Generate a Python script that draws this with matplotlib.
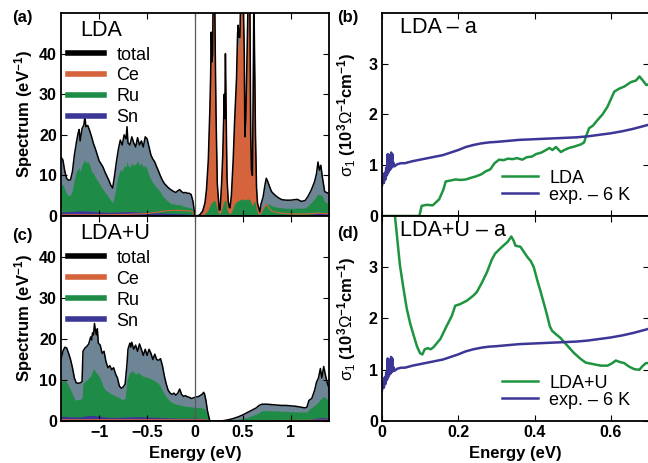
import matplotlib
matplotlib.use('Agg')
import matplotlib.pyplot as plt
from matplotlib.lines import Line2D
import numpy as np

plt.rcParams['font.family'] = ['Liberation Sans', 'DejaVu Sans']
plt.rcParams['mathtext.fontset'] = 'custom'
plt.rcParams['mathtext.rm'] = 'Liberation Sans'
plt.rcParams['mathtext.bf'] = 'Liberation Sans:bold'
plt.rcParams['mathtext.it'] = 'Liberation Sans:italic'

# ---------------- LDA spectrum (panel a) ----------------
# occupied side, total and Ru
e_a_occ = [-1.40, -1.38, -1.36, -1.34, -1.32, -1.30, -1.28, -1.26, -1.24, -1.22,
           -1.21, -1.20, -1.18, -1.16, -1.15, -1.14, -1.12, -1.10, -1.08, -1.06,
           -1.04, -1.02, -1.00, -0.98, -0.96, -0.94, -0.92, -0.90, -0.88, -0.86,
           -0.84, -0.82, -0.80, -0.78, -0.76, -0.74, -0.72, -0.71, -0.70, -0.68,
           -0.66, -0.64, -0.62, -0.60, -0.58, -0.56, -0.54, -0.52, -0.50, -0.48,
           -0.46, -0.44, -0.42, -0.40, -0.38, -0.36, -0.34, -0.32, -0.30, -0.28,
           -0.26, -0.24, -0.22, -0.20, -0.18, -0.16, -0.14, -0.12, -0.10, -0.08,
           -0.06, -0.04, -0.02]
tot_a_occ = [14.5, 13.8, 11.0, 9.2, 8.8, 8.9, 11.0, 15.0, 18.0, 20.5,
             21.3, 18.5, 21.5, 22.5, 24.6, 22.0, 22.3, 21.0, 19.5, 17.8,
             16.5, 15.0, 13.5, 12.8, 12.0, 10.8, 9.8, 8.8, 7.6, 6.9,
             10.0, 13.5, 16.5, 18.7, 17.5, 20.0, 19.0, 22.0, 18.0, 17.5,
             19.5, 18.0, 17.0, 19.3, 17.5, 18.5, 17.0, 19.5, 19.0, 17.0,
             15.0, 14.0, 13.3, 12.1, 11.0, 9.8, 8.8, 8.0, 7.5, 7.0,
             6.6, 6.3, 6.0, 5.8, 6.2, 6.5, 6.0, 5.7, 5.8, 5.6,
             5.6, 5.3, 3.5]
ru_a_occ = [7.5, 7.8, 6.5, 5.5, 5.0, 5.2, 6.5, 9.0, 11.0, 11.5,
            12.0, 10.8, 12.6, 13.5, 13.8, 13.0, 13.5, 12.5, 11.0, 10.5,
            9.5, 8.8, 8.0, 7.2, 6.5, 5.8, 5.2, 4.5, 3.8, 3.3,
            5.0, 8.0, 10.0, 11.5, 11.0, 12.5, 12.0, 13.5, 12.5, 12.0,
            13.0, 12.5, 12.8, 13.5, 12.5, 13.0, 12.0, 12.5, 11.5, 10.0,
            9.0, 8.2, 7.5, 7.0, 6.5, 5.8, 5.0, 4.5, 4.0, 3.6,
            3.2, 3.0, 3.0, 2.8, 2.8, 2.8, 2.6, 2.4, 2.3, 2.2,
            2.1, 2.0, 1.5]
e_a_ce_occ = [-1.40, -1.00, -0.70, -0.50, -0.40, -0.30, -0.20, -0.10, -0.03]
ce_a_occ = [0.3, 0.3, 0.4, 0.6, 0.9, 1.3, 1.4, 1.3, 1.2]

# unoccupied side, total / Ce / Ru on one grid
e_a_emp = [0.00, 0.03, 0.05, 0.08, 0.104, 0.12, 0.139, 0.155, 0.163, 0.17,
           0.177, 0.184, 0.19, 0.205, 0.212, 0.219, 0.233, 0.253, 0.262, 0.278,
           0.29, 0.298, 0.306, 0.312, 0.318, 0.326, 0.334, 0.348, 0.358, 0.365,
           0.38, 0.399, 0.415, 0.434, 0.445, 0.451, 0.46, 0.469, 0.478, 0.503,
           0.515, 0.521, 0.531, 0.54, 0.549, 0.556, 0.573, 0.582, 0.59, 0.60,
           0.608, 0.615, 0.622, 0.632, 0.643, 0.653, 0.677, 0.69, 0.712, 0.73,
           0.745, 0.76, 0.78, 0.80, 0.833, 0.87, 0.91, 0.955, 1.00, 1.04,
           1.07, 1.11, 1.15, 1.18, 1.215, 1.25, 1.27, 1.285, 1.30, 1.315,
           1.33, 1.355, 1.40]
tot_a_emp = [0.0, 0.1, 0.3, 1.2, 3.2, 6.5, 13.7, 26.0, 34.0, 45.3,
             38.0, 40.0, 55.0, 55.0, 40.0, 26.0, 8.0, 1.5, 1.5, 8.0,
             15.0, 22.0, 30.0, 24.0, 40.0, 25.0, 9.6, 3.5, 2.2, 2.0,
             5.0, 13.8, 24.0, 34.0, 45.0, 47.0, 44.0, 44.0, 55.0, 55.0,
             40.0, 19.5, 24.4, 35.0, 45.0, 55.0, 55.0, 20.0, 11.3, 10.0,
             30.0, 55.0, 40.0, 20.0, 7.0, 3.2, 1.0, 3.0, 4.7, 7.5,
             9.3, 8.5, 7.2, 6.0, 5.2, 4.5, 4.0, 3.9, 3.9, 4.0,
             4.1, 3.6, 3.8, 4.8, 6.4, 8.5, 10.5, 13.3, 11.3, 12.5,
             9.7, 6.0, 5.5]
ce_a_emp = [0.0, 0.05, 0.2, 0.8, 2.4, 5.3, 11.8, 23.0, 30.5, 41.5,
            34.5, 36.0, 50.5, 50.5, 36.0, 22.5, 6.0, 0.8, 0.8, 6.0,
            12.0, 18.5, 26.0, 20.0, 35.5, 21.5, 7.5, 2.3, 1.4, 1.2,
            3.8, 11.5, 20.5, 30.0, 40.5, 42.5, 39.5, 39.5, 50.5, 50.5,
            35.5, 15.0, 20.0, 30.5, 40.5, 50.5, 50.5, 16.0, 8.0, 7.0,
            26.0, 50.5, 36.0, 16.5, 5.0, 2.0, 0.5, 1.2, 2.0, 2.6,
            2.8, 2.5, 1.8, 1.3, 1.0, 0.8, 0.7, 0.6, 0.5, 0.5,
            0.5, 0.5, 0.5, 0.5, 0.6, 0.6, 0.7, 0.7, 0.7, 0.7,
            0.6, 0.6, 0.5]
ru_a_emp = [0.0, 0.05, 0.1, 0.3, 0.6, 1.0, 1.6, 2.5, 3.0, 3.3,
            3.3, 3.5, 3.8, 3.8, 3.5, 3.0, 1.5, 0.5, 0.5, 1.5,
            2.5, 3.2, 3.5, 3.7, 4.0, 3.5, 1.8, 0.8, 0.6, 0.6,
            1.0, 2.0, 3.0, 3.5, 3.8, 3.8, 3.8, 4.0, 4.0, 4.2,
            4.0, 4.0, 4.0, 4.2, 4.2, 4.2, 4.0, 3.5, 3.0, 2.5,
            3.0, 3.5, 3.5, 3.0, 1.5, 0.8, 0.4, 0.8, 1.8, 2.5,
            3.0, 3.0, 2.8, 2.5, 2.3, 2.1, 2.0, 1.9, 1.9, 1.9,
            2.0, 1.9, 2.0, 2.5, 3.3, 4.2, 5.0, 5.5, 5.0, 5.3,
            4.8, 3.5, 3.0]
e_a_sn = [-1.40, -1.30, -1.20, -1.10, -1.00, -0.90, -0.80, -0.70, -0.60, -0.50,
          -0.40, -0.30, -0.20, -0.10, -0.02, 0.00, 0.10, 0.20, 0.40, 0.60,
          0.70, 0.90, 1.10, 1.20, 1.30, 1.40]
sn_a = [1.0, 1.1, 1.3, 1.2, 1.0, 0.9, 1.0, 1.1, 1.0, 0.9,
        0.8, 0.7, 0.6, 0.5, 0.4, 0.0, 0.1, 0.2, 0.2, 0.2,
        0.2, 0.3, 0.3, 0.4, 0.7, 0.6]

# ---------------- LDA+U spectrum (panel c) ----------------
e_c = [-1.40, -1.38, -1.36, -1.34, -1.32, -1.30, -1.28, -1.26, -1.24, -1.22,
       -1.20, -1.18, -1.17, -1.15, -1.13, -1.11, -1.09, -1.08, -1.07, -1.06,
       -1.05, -1.04, -1.03, -1.02, -1.01, -0.99, -0.97, -0.95, -0.93, -0.91,
       -0.89, -0.87, -0.85, -0.83, -0.81, -0.79, -0.77, -0.75, -0.73, -0.71,
       -0.70, -0.68, -0.67, -0.66, -0.64, -0.62, -0.60, -0.58, -0.56, -0.54,
       -0.52, -0.50, -0.48, -0.46, -0.44, -0.42, -0.40, -0.38, -0.36, -0.34,
       -0.32, -0.30, -0.28, -0.26, -0.24, -0.22, -0.20, -0.18, -0.16, -0.14,
       -0.12, -0.10, -0.08, -0.06, -0.04, -0.02, 0.00, 0.02, 0.04, 0.06,
       0.08, 0.09, 0.10, 0.115, 0.13, 0.155, 0.26, 0.30, 0.35, 0.40,
       0.45, 0.50, 0.55, 0.60, 0.64, 0.67, 0.70, 0.75, 0.80, 0.85,
       0.90, 0.95, 1.00, 1.05, 1.10, 1.15, 1.17, 1.19, 1.22, 1.25,
       1.27, 1.29, 1.31, 1.325, 1.345, 1.36, 1.38, 1.40]
tot_c = [15.0, 17.0, 18.0, 17.8, 16.5, 15.0, 13.0, 10.5, 9.3, 9.2,
         9.3, 9.6, 17.0, 17.8, 18.2, 18.8, 20.5, 19.8, 21.5, 21.0,
         23.8, 22.0, 21.0, 22.5, 19.0, 18.5, 16.5, 17.0, 14.5, 13.0,
         13.5, 12.5, 13.0, 11.5, 10.5, 8.5, 8.0, 8.3, 9.0, 14.0,
         17.5, 19.0, 18.0, 19.2, 17.5, 18.5, 17.0, 18.8, 17.5, 16.0,
         17.5, 16.0, 17.5, 16.5, 15.0, 16.3, 15.0, 14.8, 15.2, 13.5,
         11.0, 9.0, 7.5, 6.8, 6.5, 6.8, 6.3, 6.8, 7.8, 6.5,
         6.0, 6.2, 5.9, 5.8, 5.5, 5.6, 5.8, 5.9, 6.0, 6.3,
         6.6, 7.0, 6.6, 5.0, 2.5, 0.0, 0.0, 0.1, 0.3, 0.6,
         1.0, 1.5, 2.1, 2.7, 3.2, 3.8, 4.1, 4.1, 4.0, 3.9,
         3.8, 3.8, 3.7, 3.6, 3.4, 3.2, 3.4, 5.0, 5.5, 7.5,
         9.5, 10.5, 12.8, 10.5, 13.3, 11.5, 9.5, 8.0]
e_c_ru = [-1.40, -1.36, -1.33, -1.30, -1.27, -1.25, -1.20, -1.18, -1.17, -1.13,
          -1.09, -1.06, -1.04, -1.02, -0.99, -0.96, -0.94, -0.90, -0.88, -0.84,
          -0.80, -0.76, -0.73, -0.71, -0.69, -0.66, -0.62, -0.59, -0.55, -0.52,
          -0.48, -0.44, -0.40, -0.37, -0.33, -0.30, -0.26, -0.22, -0.16, -0.10,
          -0.05, 0.00, 0.05, 0.10, 0.13, 0.155, 0.26, 0.35, 0.45, 0.55,
          0.65, 0.70, 0.80, 0.90, 1.00, 1.10, 1.17, 1.20, 1.26, 1.30,
          1.34, 1.40]
ru_c = [9.5, 10.0, 9.0, 7.6, 6.0, 5.1, 5.3, 5.5, 9.2, 10.0,
        11.0, 12.8, 12.0, 11.5, 10.4, 8.5, 7.6, 7.0, 6.7, 6.2,
        5.8, 5.2, 5.5, 10.0, 11.5, 12.3, 11.5, 11.8, 11.0, 10.8,
        10.5, 10.0, 9.5, 8.8, 7.0, 5.9, 4.8, 4.3, 3.9, 3.6,
        3.5, 3.3, 3.3, 3.0, 1.5, 0.0, 0.0, 0.1, 0.4, 0.9,
        1.8, 2.5, 2.5, 2.4, 2.3, 2.2, 2.2, 3.0, 4.0, 5.0,
        6.0, 5.0]
e_c_sn = [-1.40, -1.30, -1.20, -1.10, -1.00, -0.90, -0.80, -0.70, -0.60, -0.50,
          -0.40, -0.30, -0.20, -0.10, 0.00, 0.10, 0.155, 0.26, 0.50, 0.70,
          1.00, 1.17, 1.25, 1.32, 1.40]
sn_c = [1.2, 1.0, 1.0, 1.4, 1.2, 0.9, 0.9, 1.0, 1.1, 1.0,
        0.9, 0.8, 0.7, 0.7, 0.7, 0.6, 0.0, 0.0, 0.1, 0.3,
        0.3, 0.3, 0.6, 0.9, 0.7]
e_c_ce = [-1.40, 0.10, 0.155, 0.26, 0.70, 1.40]
ce_c = [0.3, 0.3, 0.0, 0.0, 0.1, 0.2]

# ---------------- optical conductivity (panels b, d) ----------------
e_exp = [0.000, 0.003, 0.005, 0.007, 0.009, 0.011, 0.013, 0.015, 0.016, 0.018,
         0.019, 0.021, 0.022, 0.024, 0.025, 0.027, 0.028, 0.030, 0.033, 0.040,
         0.050, 0.060, 0.080, 0.100, 0.120, 0.140, 0.160, 0.180, 0.200, 0.220,
         0.240, 0.260, 0.280, 0.300, 0.330, 0.360, 0.390, 0.420, 0.450, 0.480,
         0.510, 0.540, 0.570, 0.600, 0.630, 0.660, 0.700]
sig_exp = [0.60, 0.75, 0.65, 0.85, 0.72, 0.95, 0.80, 1.22, 0.85, 1.20,
           0.90, 1.15, 0.92, 1.25, 0.95, 1.22, 0.97, 1.05, 0.98, 1.02,
           1.04, 1.04, 1.08, 1.11, 1.14, 1.17, 1.20, 1.25, 1.30, 1.36,
           1.40, 1.43, 1.45, 1.46, 1.48, 1.50, 1.51, 1.52, 1.53, 1.54,
           1.55, 1.57, 1.60, 1.63, 1.67, 1.72, 1.80]

e_lda = [0.000, 0.098, 0.104, 0.117, 0.133, 0.150, 0.161, 0.167, 0.180, 0.193,
         0.205, 0.220, 0.232, 0.246, 0.260, 0.272, 0.284, 0.295, 0.307, 0.319,
         0.330, 0.342, 0.354, 0.368, 0.380, 0.393, 0.404, 0.418, 0.430, 0.439,
         0.447, 0.456, 0.469, 0.478, 0.490, 0.505, 0.521, 0.530, 0.534, 0.543,
         0.553, 0.565, 0.578, 0.591, 0.600, 0.609, 0.622, 0.635, 0.653, 0.666,
         0.675, 0.684, 0.693, 0.701]
sig_lda = [0.0, 0.0, 0.2, 0.22, 0.21, 0.33, 0.52, 0.68, 0.70, 0.72,
           0.71, 0.72, 0.75, 0.78, 0.82, 0.88, 0.92, 1.04, 1.11, 1.10,
           1.13, 1.12, 1.14, 1.11, 1.16, 1.17, 1.22, 1.25, 1.30, 1.34,
           1.30, 1.36, 1.26, 1.30, 1.34, 1.37, 1.41, 1.45, 1.55, 1.73,
           1.78, 1.89, 2.00, 2.15, 2.30, 2.45, 2.51, 2.55, 2.64, 2.67,
           2.75, 2.67, 2.58, 2.60]

e_ldau = [0.025, 0.034, 0.047, 0.056, 0.065, 0.074, 0.083, 0.092, 0.100, 0.106,
          0.112, 0.120, 0.128, 0.135, 0.153, 0.170, 0.183, 0.192, 0.205, 0.223,
          0.240, 0.249, 0.262, 0.275, 0.288, 0.297, 0.315, 0.330, 0.339, 0.345,
          0.350, 0.363, 0.372, 0.381, 0.390, 0.398, 0.407, 0.416, 0.425, 0.433,
          0.440, 0.446, 0.455, 0.468, 0.486, 0.503, 0.521, 0.534, 0.547, 0.560,
          0.574, 0.591, 0.602, 0.613, 0.624, 0.635, 0.648, 0.662, 0.675, 0.683,
          0.692, 0.700]
sig_ldau = [4.6, 4.0, 3.04, 2.6, 2.19, 1.9, 1.67, 1.45, 1.32, 1.30,
            1.40, 1.42, 1.40, 1.44, 1.60, 1.86, 2.05, 2.25, 2.28, 2.35,
            2.45, 2.52, 2.70, 2.90, 3.15, 3.27, 3.40, 3.50, 3.60, 3.52,
            3.42, 3.40, 3.30, 3.20, 3.12, 3.00, 2.75, 2.52, 2.28, 2.06,
            1.85, 1.76, 1.70, 1.62, 1.47, 1.33, 1.21, 1.14, 1.12, 1.10,
            1.08, 1.08, 1.12, 1.18, 1.15, 1.13, 1.06, 1.01, 1.00, 1.07,
            1.13, 1.13]

dos_ticks = [-1, -0.5, 0, 0.5, 1]
dos_ticklabels = ['\u22121', '\u22120.5', '0', '0.5', '1']
sig_ticks = [0, 0.2, 0.4, 0.6]
sig_ticklabels = ['0', '0.2', '0.4', '0.6']

c_tot = '#6e8596'
c_ce = '#d5633b'
c_ru = '#1e8c46'
c_sn = '#3c3796'
c_green = '#1f9440'
c_purple = '#3c3796'

fs_tick = 11.5
fs_label = 12


def style_axes(ax):
    ax.tick_params(direction='in', top=True, right=True, length=4, width=0.8,
                   labelsize=fs_tick, pad=3)
    for sp in ax.spines.values():
        sp.set_linewidth(1.3)
    for lab in ax.get_xticklabels() + ax.get_yticklabels():
        lab.set_fontweight('bold')


def dos_panel(ax, e, tot, e_ce, ce, e_ru, ru, e_sn, sn, title, show_x):
    ax.fill_between(e, tot, color=c_tot, lw=0)
    ax.fill_between(e_ce, ce, color=c_ce, lw=0)
    ax.fill_between(e_ru, ru, color=c_ru, lw=0)
    ax.fill_between(e_sn, sn, color=c_sn, lw=0)
    ax.plot(e_ce, ce, color=c_ce, lw=0.8)
    ax.plot(e, tot, color='k', lw=1.1)
    ax.axvline(0, color='0.35', lw=0.9)
    ax.set_xlim(-1.4, 1.4)
    ax.set_ylim(0, 50)
    ax.set_yticks([0, 10, 20, 30, 40])
    ax.set_xticks(dos_ticks)
    if show_x:
        ax.set_xticklabels(dos_ticklabels)
        ax.set_xlabel('Energy (eV)', fontsize=fs_label, fontweight='bold', labelpad=4)
    else:
        ax.set_xticklabels([])
    ax.set_ylabel('Spectrum (eV$^{\\mathbf{-1}}$)', fontsize=fs_label,
                  fontweight='bold', labelpad=3)
    style_axes(ax)
    ax.text(0.072, 0.915, title, transform=ax.transAxes, fontsize=15.5,
            va='center', ha='left')
    handles = [Line2D([], [], color='k', lw=4),
               Line2D([], [], color=c_ce, lw=4),
               Line2D([], [], color=c_ru, lw=4),
               Line2D([], [], color=c_sn, lw=4)]
    ax.legend(handles, ['total', 'Ce', 'Ru', 'Sn'], loc='upper left',
              bbox_to_anchor=(0.025, 0.835), frameon=False, fontsize=13,
              handlelength=2.0, handletextpad=0.7, labelspacing=0.22,
              borderpad=0, borderaxespad=0)


def sigma_panel(ax, e, sig, name, title, show_x):
    ax.plot(e, sig, color=c_green, lw=1.8, label=name)
    ax.plot(e_exp, sig_exp, color=c_purple, lw=1.8, label='exp. \u2013 6 K')
    ax.set_xlim(0, 0.7)
    ax.set_ylim(0, 4)
    ax.set_yticks([0, 1, 2, 3])
    ax.set_xticks(sig_ticks)
    if show_x:
        ax.set_xticklabels(sig_ticklabels)
        ax.set_xlabel('Energy (eV)', fontsize=fs_label, fontweight='bold', labelpad=4)
    else:
        ax.set_xticklabels([])
    ax.set_ylabel('$\\mathrm{\\sigma}_1$ (10$^{\\mathbf{3}}$$\\Omega^{\\mathbf{-1}}$cm$^{\\mathbf{-1}}$)',
                  fontsize=fs_label, fontweight='bold', labelpad=8)
    style_axes(ax)
    ax.text(0.068, 0.93, title, transform=ax.transAxes, fontsize=15.5,
            va='center', ha='left')
    ax.legend(loc='lower left', bbox_to_anchor=(0.45, 0.06), frameon=False,
              fontsize=13, handlelength=2.0, handletextpad=0.6,
              labelspacing=0.0, borderpad=0, borderaxespad=0)


fig = plt.figure(figsize=(6.48, 4.63), dpi=100)

ax_a = fig.add_axes([0.0941, 0.5335, 0.4136, 0.4384])
ax_c = fig.add_axes([0.0941, 0.0907, 0.4136, 0.4428])
ax_b = fig.add_axes([0.5895, 0.5335, 0.4120, 0.4384])
ax_d = fig.add_axes([0.5895, 0.0907, 0.4120, 0.4428])

dos_panel(ax_a, e_a_occ + e_a_emp, tot_a_occ + tot_a_emp,
          e_a_ce_occ + e_a_emp, ce_a_occ + ce_a_emp,
          e_a_occ + e_a_emp, ru_a_occ + ru_a_emp,
          e_a_sn, sn_a, 'LDA', False)
dos_panel(ax_c, e_c, tot_c, e_c_ce, ce_c, e_c_ru, ru_c, e_c_sn, sn_c,
          'LDA+U', True)
sigma_panel(ax_b, e_lda, sig_lda, 'LDA', 'LDA \u2013 a', False)
sigma_panel(ax_d, e_ldau, sig_ldau, 'LDA+U', 'LDA+U \u2013 a', True)

for lbl, x, y in [('(a)', 0.018, 0.963), ('(b)', 0.52, 0.963),
                  ('(c)', 0.018, 0.492), ('(d)', 0.52, 0.495)]:
    fig.text(x, y, lbl, fontsize=12, fontweight='bold', va='center')

fig.savefig('out.png', dpi=100)
